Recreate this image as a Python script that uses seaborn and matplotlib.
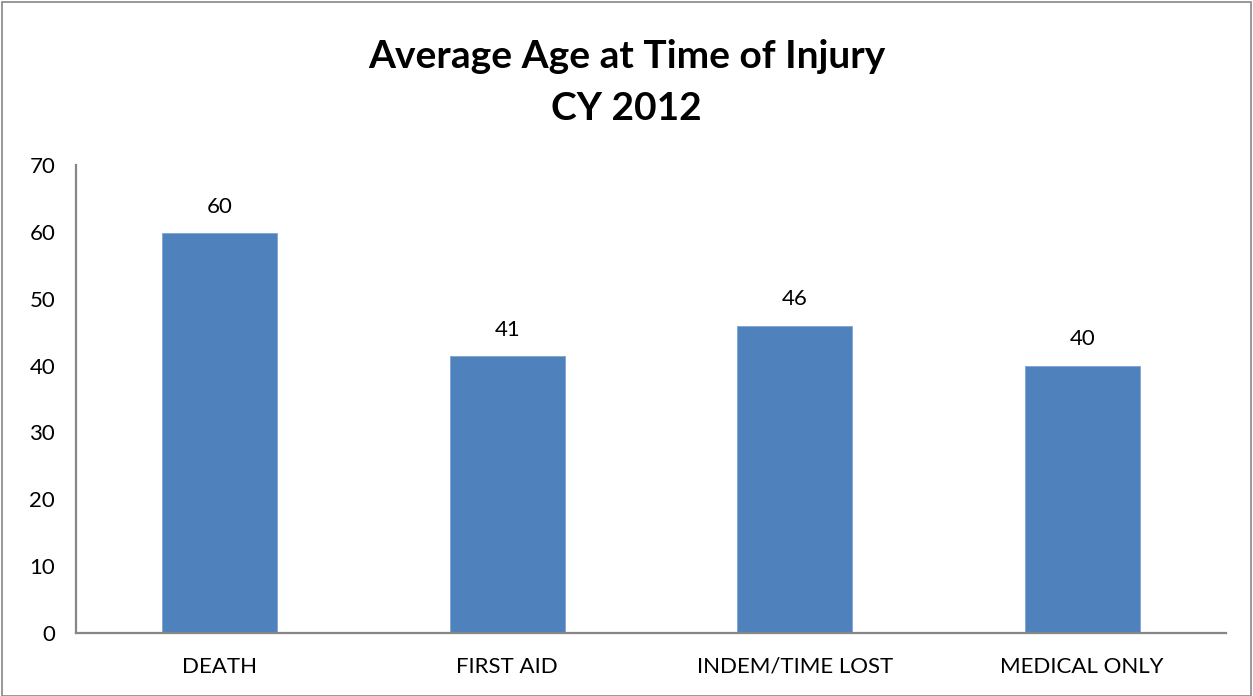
import matplotlib
matplotlib.use("Agg")
import matplotlib.pyplot as plt
import seaborn as sns
import pandas as pd
from matplotlib.patches import Rectangle

# Average age per claim type, calendar year 2012
categories = ["DEATH", "FIRST AID", "INDEM/TIME LOST", "MEDICAL ONLY"]
avg_age = [59.8, 41.4, 45.9, 40.0]
y_ticks = [0, 10, 20, 30, 40, 50, 60, 70]

df = pd.DataFrame({"category": categories, "age": avg_age})

sns.set_theme(style="white")
plt.rcParams["font.family"] = ["Lato", "DejaVu Sans"]

W, H = 1253, 696
fig = plt.figure(figsize=(W / 100, H / 100), dpi=100)
ax = fig.add_axes([76 / W, 1 - 633 / H, (1226 - 76) / W, (633 - 165) / H])

sns.barplot(data=df, x="category", y="age", color="#4F81BD", saturation=1,
            width=0.4, ax=ax, edgecolor="#7FA3D3", linewidth=0.6)

ax.set_xlim(-0.5, 3.5)
ax.set_ylim(0, 70)
ax.set_yticks(y_ticks)
ax.set_yticklabels([str(t) for t in y_ticks], fontsize=16, color="black")
ax.tick_params(axis="x", labelsize=16, colors="black", pad=17, length=0)
ax.tick_params(axis="y", pad=15, length=0)
ax.set_xlabel("")
ax.set_ylabel("")

for side in ["top", "right"]:
    ax.spines[side].set_visible(False)
for side in ["left", "bottom"]:
    ax.spines[side].set_color("#868686")
    ax.spines[side].set_linewidth(1.6)

# value labels above each bar
for i, v in enumerate(avg_age):
    ax.annotate(f"{v:.0f}", xy=(i, v), xytext=(0, 12), textcoords="offset points",
                ha="center", va="bottom", fontsize=16, color="black")

fig.text(0.5, 1 - 57 / H, "Average Age at Time of Injury", ha="center", va="center",
         fontsize=28, fontweight="bold", color="black")
fig.text(0.5, 1 - 108 / H, "CY 2012", ha="center", va="center",
         fontsize=28, fontweight="bold", color="black")

# outer chart border
fig.patches.append(Rectangle((2 / W, 0), 1 - 4 / W, 1 - 2 / H, transform=fig.transFigure,
                             fill=False, edgecolor="#868686", linewidth=1.2))

fig.savefig("out.png", dpi=100, facecolor="white")
